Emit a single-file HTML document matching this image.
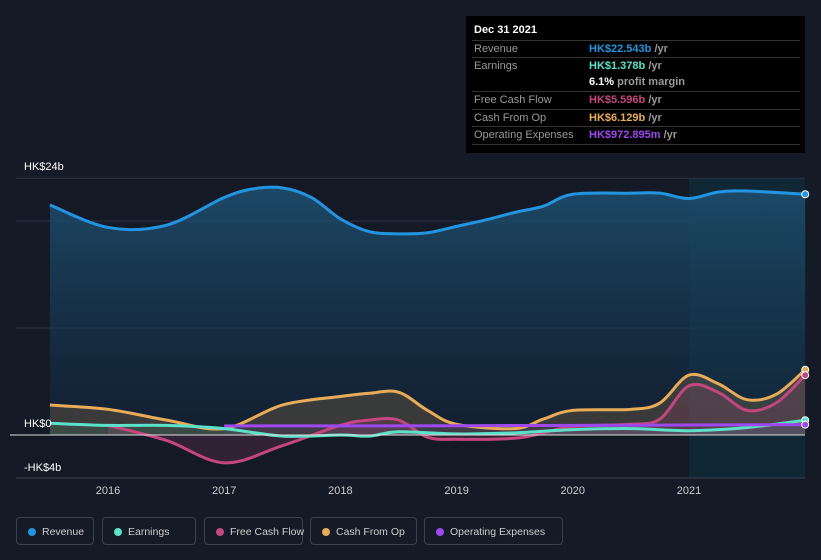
<!DOCTYPE html>
<html><head><meta charset="utf-8"><style>
body{margin:0;background:#151b26;width:821px;height:560px;overflow:hidden;font-family:"Liberation Sans",sans-serif;position:relative}
#tip{position:absolute;left:466px;top:16px;width:339px;height:137px;background:#000;color:#fff;font-size:11px}
#tip .h{position:absolute;left:8px;top:9px;font-weight:bold;font-size:11px}
.r{position:absolute;left:6px;width:326px;height:17px;border-top:1px solid #333;color:#999;line-height:17px;padding-left:2px}
.r b{position:absolute;left:117px}
.r span{color:#999}
#legend{position:absolute;top:517px;left:16px;font-size:10.5px;color:#ccc}
.lg{position:absolute;top:0;height:28px;border:1px solid #3a4150;border-radius:4px;line-height:28px;padding-left:25px;box-sizing:border-box;white-space:nowrap}
.lg i{position:absolute;left:11px;top:10px;width:8px;height:8px;border-radius:50%}
</style></head><body>
<svg id="chart" width="821" height="560" style="position:absolute;left:0;top:0">
<defs><linearGradient id="rg" x1="0" y1="0" x2="0" y2="1"><stop offset="0" stop-color="#1d4e6e" stop-opacity="0.9"/><stop offset="1" stop-color="#12253a" stop-opacity="0.5"/></linearGradient></defs>
<g id="g"></g>
</svg>
<div id="tip">
<div class="h" style="top:8px">Dec 31 2021</div>
<div class="r" style="top:24px">Revenue<b style="color:#2394df">HK$22.543b <span>/yr</span></b></div>
<div class="r" style="top:41px">Earnings<b style="color:#5ce1c9">HK$1.378b <span>/yr</span></b></div>
<div class="r" style="top:58px;border-top:none"><b style="color:#fff">6.1% <span>profit margin</span></b></div>
<div class="r" style="top:75px">Free Cash Flow<b style="color:#c4467f">HK$5.596b <span>/yr</span></b></div>
<div class="r" style="top:93px">Cash From Op<b style="color:#e8ac59">HK$6.129b <span>/yr</span></b></div>
<div class="r" style="top:110px;border-bottom:1px solid #333">Operating Expenses<b style="color:#9d49ee">HK$972.895m <span>/yr</span></b></div>
</div>
<div id="legend">
<div class="lg" style="left:0;width:78px"><i style="background:#2394df"></i>Revenue</div>
<div class="lg" style="left:86px;width:94px"><i style="background:#5ce1c9"></i>Earnings</div>
<div class="lg" style="left:188px;width:99px"><i style="background:#c4467f"></i>Free Cash Flow</div>
<div class="lg" style="left:294px;width:107px"><i style="background:#e8ac59"></i>Cash From Op</div>
<div class="lg" style="left:408px;width:139px"><i style="background:#9d49ee"></i>Operating Expenses</div>
</div>
<script>
const xTicks=[2016,2017,2018,2019,2020,2021];
const yTickLabels=["HK$24b","HK$0","-HK$4b"];
const yTickValues=[24,0,-4];
const revX=[2015.5,2016,2016.5,2017,2017.25,2017.5,2017.75,2018,2018.25,2018.5,2018.75,2019,2019.25,2019.5,2019.75,2020,2020.5,2020.75,2021,2021.25,2021.5,2022];
const revY=[21.5,19.4,19.6,22.2,23.0,23.1,22.2,20.2,19.0,18.8,18.9,19.5,20.1,20.8,21.4,22.5,22.6,22.6,22.1,22.7,22.8,22.5];
const cfoX=[2015.5,2016,2016.5,2017,2017.5,2018,2018.25,2018.5,2018.75,2019,2019.5,2019.75,2020,2020.5,2020.75,2021,2021.25,2021.5,2021.75,2022];
const cfoY=[2.8,2.4,1.4,0.6,2.8,3.6,3.9,4.0,2.3,1.0,0.6,1.5,2.3,2.4,3.0,5.6,4.8,3.3,3.8,6.1];
const fcfX=[2016,2016.5,2017,2017.5,2018,2018.25,2018.5,2018.75,2019,2019.5,2019.75,2020,2020.5,2020.75,2021,2021.25,2021.5,2021.75,2022];
const fcfY=[0.9,-0.5,-2.6,-1.0,0.9,1.4,1.4,-0.2,-0.4,-0.3,0.2,0.8,1.0,1.5,4.6,4.0,2.3,3.0,5.6];
const earnX=[2015.5,2016,2016.5,2017,2017.5,2018,2018.25,2018.5,2019,2019.5,2020,2020.5,2021,2021.5,2022];
const earnY=[1.1,0.9,0.9,0.6,-0.1,0.0,-0.1,0.3,0.1,0.2,0.5,0.6,0.4,0.7,1.38];
const opexX=[2017,2018,2019,2020,2021,2022];
const opexY=[0.85,0.85,0.87,0.9,0.93,0.97];
const X=v=>108+(v-2016)*116.2, Y=v=>435-v*10.7;
const g=document.getElementById('g'),NS='http://www.w3.org/2000/svg';
function el(t,a){const e=document.createElementNS(NS,t);for(const k in a)e.setAttribute(k,a[k]);g.appendChild(e);return e;}
function path(xs,ys){const p=xs.map((x,i)=>[X(x),Y(ys[i])]);let d='M'+p[0];for(let i=0;i<p.length-1;i++){const p0=p[i-1]||p[i],p1=p[i],p2=p[i+1],p3=p[i+2]||p2;const c1=[p1[0]+(p2[0]-p0[0])/6,p1[1]+(p2[1]-p0[1])/6],c2=[p2[0]-(p3[0]-p1[0])/6,p2[1]-(p3[1]-p1[1])/6];d+='C'+c1+' '+c2+' '+p2;}return d;}
let e=el('rect',{x:16,y:178,width:789,height:300,fill:'#131a26'});

e=el('rect',{x:689,y:178,width:116,height:300,fill:'#0f3444',opacity:0.55});

[24,20,10].forEach(v=>{const l=el('line',{x1:16,x2:805,y1:Y(v),y2:Y(v),stroke:'#2a3344','stroke-width':1});});
const series=[[revX,revY,'#2394df','url(#rg)',1,'revenue'],[cfoX,cfoY,'#e8ac59','#e8ac59',0.18,'cash-from-op'],[fcfX,fcfY,'#c4467f','#c4467f',0.18,'free-cash-flow'],[earnX,earnY,'#5ce1c9','#5ce1c9',0.1,'earnings'],[opexX,opexY,'#9d49ee','#9d49ee',0.08,'operating-expenses']];
series.forEach(s=>{const d=path(s[0],s[1]);const a=el('path',{d:d+'L'+X(s[0][s[0].length-1])+','+Y(0)+'L'+X(s[0][0])+','+Y(0)+'Z',fill:s[3],'fill-opacity':s[4]});
});
series.forEach(s=>{const l=el('path',{d:path(s[0],s[1]),fill:'none',stroke:s[2],'stroke-width':3});

const c=el('circle',{cx:X(s[0][s[0].length-1]),cy:Y(s[1][s[1].length-1]),r:3.5,fill:s[2],stroke:'#fff','stroke-width':1});
});
e=el('line',{x1:10,x2:805,y1:Y(0),y2:Y(0),stroke:'#ddd','stroke-width':1});

e=el('line',{x1:16,x2:805,y1:478,y2:478,stroke:'#3a4150','stroke-width':1});

yTickValues.forEach((v,i)=>{const t=el('text',{x:24,y:Y(v)-8+(v<0?1:0),fill:'#fff','font-size':11});t.textContent=yTickLabels[i];
});
xTicks.forEach(v=>{const t=el('text',{x:X(v),y:494,fill:'#ccc','font-size':11,'text-anchor':'middle'});t.textContent=v;
});
</script>
</body></html>
